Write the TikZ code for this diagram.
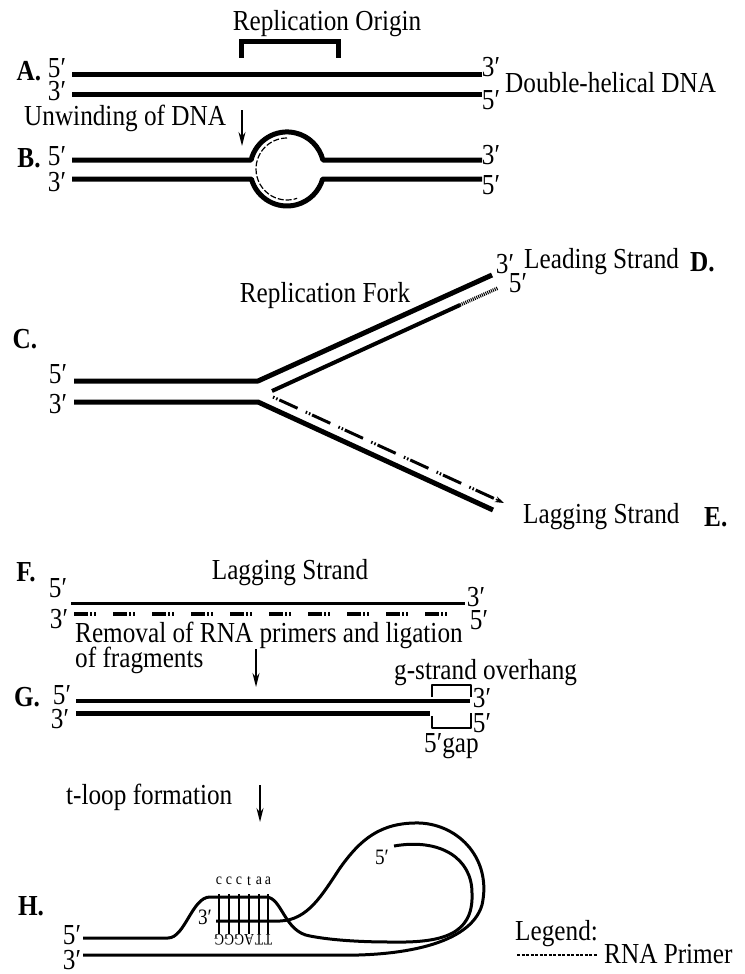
\documentclass[tikz,border=0pt]{standalone}
\usepackage{fontspec}
\setmainfont{Liberation Serif}[FakeStretch=0.87]
\usetikzlibrary{arrows.meta,calc}
\begin{document}
\begin{tikzpicture}[x=1pt,y=-1pt,
  lbl/.style={font=\fontsize{29}{30}\selectfont, inner sep=0pt},
  let/.style={font=\bfseries\fontsize{29}{30}\selectfont, inner sep=0pt},
  sml/.style={font=\fontsize{22}{23}\selectfont, inner sep=0pt},
  base/.style={font=\fontsize{16}{17}\selectfont, inner sep=0pt},
  fat/.style={line width=5pt},
  mid/.style={line width=3.5pt},
  slim/.style={line width=3pt},
  brk/.style={line width=1.2pt},
  down/.style={line width=1.6pt,-{Stealth[length=14pt,width=7pt]}},
  primer/.style={line width=3.5pt, dash pattern=on 14pt off 2pt on 2pt off 2pt on 2pt off 17pt},
  lagdash/.style={line width=3pt, dash pattern=on 1.5pt off 2pt on 1.5pt off 2pt on 20pt off 9pt},
  hatch/.style={line width=3.5pt, dash pattern=on 1pt off 1pt},
  line join=round]
\useasboundingbox (0,0) rectangle (744,974);

% ---------- A ----------
\node[lbl] (ro) at (327,24) {Replication Origin};
\draw[fat, line join=miter] (241,58) -- (241,42) -- (338,42) -- (338,58);
\node[let] (A) at (29,71) {A.};
\coordinate (a1) at (72,74); \coordinate (a2) at (482,74);
\coordinate (a3) at (72,94); \coordinate (a4) at (482,94);
\draw[fat] (a1) -- (a2);
\draw[fat] (a3) -- (a4);
\node[lbl] (a5l) at (57,68) {5′};
\node[lbl] (a3l) at (57,91) {3′};
\node[lbl] (a3r) at (491,67) {3′};
\node[lbl] (a5r) at (491,100) {5′};
\node[lbl, anchor=west] (dh) at (505,83) {Double-helical DNA};

\node[lbl, anchor=west] (unw) at (24,118) {Unwinding of DNA};
\coordinate (u1) at (242,110); \coordinate (u2) at (242,146);
\draw[down] (u1) -- (u2);

% ---------- B ----------
\node[let] (B) at (29,158) {B.};
\draw[fat] (72,160) -- (251.1,160) arc[start angle=194, end angle=346, radius=37] -- (482,160);
\draw[fat] (72,179) -- (251.4,179) arc[start angle=164.3, end angle=15.7, radius=37] -- (482,179);
\draw[line width=1.2pt, dash pattern=on 6pt off 2pt] (287,138) arc[start angle=270, end angle=71, radius=31];
\node[lbl] (b5l) at (57,156) {5′};
\node[lbl] (b3l) at (57,182) {3′};
\node[lbl] (b3r) at (491,155) {3′};
\node[lbl] (b5r) at (491,185) {5′};

% ---------- C ----------
\node[let] (C) at (25,339) {C.};
\node[lbl] (c5l) at (58,374) {5′};
\node[lbl] (c3l) at (58,404) {3′};
\coordinate (c1) at (74,381); \coordinate (cj1) at (258,381); \coordinate (ce1) at (492,275);
\coordinate (c2) at (74,402); \coordinate (cj2) at (258,402); \coordinate (ce2) at (493,510);
\draw[fat] (c1) -- (cj1) -- (ce1);
\draw[fat] (c2) -- (cj2) -- (ce2);
\coordinate (ls1) at (272,391); \coordinate (ls2) at (460,305); \coordinate (ls3) at (498,288);
\draw[line width=4pt] (ls1) -- (ls2);
\draw[hatch] (ls2) -- (ls3);
\coordinate (lg1) at (273,397); \coordinate (lg2) at (504,503);
\coordinate (lg3) at ($(lg2)!9pt!(lg1)$);
\draw[lagdash] (lg1) -- (lg3);
\draw[line width=1.5pt, -{Stealth[length=9pt,width=6pt]}] (lg3) -- (lg2);
\node[lbl] (rf) at (325,296) {Replication Fork};
\node[lbl] (d3) at (505,264) {3′};
\node[lbl] (d5) at (518,283) {5′};
\node[lbl, anchor=west] (lead) at (524,262) {Leading Strand};
\node[let, anchor=west] (D) at (690,262) {D.};
\node[lbl, anchor=west] (lag) at (523,517) {Lagging Strand};
\node[let, anchor=west] (E) at (704,517) {E.};

% ---------- F ----------
\node[let] (F) at (26,572) {F.};
\node[lbl] (flag) at (290,573) {Lagging Strand};
\node[lbl] (f5l) at (58,588) {5′};
\coordinate (f1) at (71,603); \coordinate (f2) at (465,603);
\draw[slim] (f1) -- (f2);
\node[lbl] (f3r) at (476,597) {3′};
\coordinate (f3) at (74,614); \coordinate (f4) at (458,614);
\draw[primer] (f3) -- (f4);
\node[lbl] (f3l) at (59,619) {3′};
\node[lbl] (f5r) at (479,620) {5′};
\node[lbl, anchor=west] (rem1) at (75,635) {Removal of RNA primers and ligation};
\node[lbl, anchor=west] (rem2) at (75,660) {of fragments};
\coordinate (fa1) at (256,649); \coordinate (fa2) at (256,687);
\draw[down] (fa1) -- (fa2);

% ---------- G ----------
\node[lbl, anchor=west] (gso) at (394,673) {g-strand overhang};
\node[let] (G) at (27,697) {G.};
\node[lbl] (g5l) at (62,695) {5′};
\coordinate (g1) at (76,701); \coordinate (g2) at (470,701);
\coordinate (g3) at (76,713); \coordinate (g4) at (430,713);
\draw[mid] (g1) -- (g2);
\draw[fat] (g3) -- (g4);
\node[lbl] (g3l) at (60,719) {3′};
\draw[brk] (432,697) -- (432,685) -- (471,685) -- (471,697);
\draw[brk] (432,716) -- (432,728) -- (471,728) -- (471,713);
\node[lbl] (g3r) at (482,698) {3′};
\node[lbl] (g5r) at (482,723) {5′};
\node[lbl, anchor=west] (gap) at (424,746) {5′gap};

% ---------- H ----------
\node[lbl, anchor=west] (tl) at (66,797) {t-loop formation};
\coordinate (ta1) at (260,785); \coordinate (ta2) at (260,822);
\draw[down] (ta1) -- (ta2);
\node[let] (H) at (31,906) {H.};
\node[lbl] (h5l) at (72,935) {5′};
\node[lbl] (h3l) at (72,960) {3′};
\draw[slim] (83,938) -- (168,938) .. controls (185,938) and (192,897) .. (210,897) -- (266,897)
  .. controls (282,897) and (284,932) .. (310,936) .. controls (330,940) and (360,942) .. (390,942)
  .. controls (440,943) and (474,936) .. (472,893) .. controls (472,858) and (440,838) .. (394,846);
\draw[slim] (83,955) -- (330,955) .. controls (400,957) and (470,945) .. (482,905)
  .. controls (492,860) and (460,825) .. (420,823) .. controls (380,822) and (360,840) .. (340,868)
  .. controls (322,895) and (308,920) .. (280,921) -- (216,921);
\foreach \x/\t/\b in {219/c/G,229/c/G,239/c/G,249/t/A,259/a/T,268/a/T} {
  \draw[line width=1.5pt] (\x,894) -- (\x,934);
  \node[base] (up\x) at (\x,881) {\t};
  \node[base, rotate=180] (lo\x) at (\x,940) {\b};
}
\node[sml] (h3i) at (205,917) {3′};
\node[sml] (h5i) at (382,857) {5′};

% ---------- Legend ----------
\node[lbl, anchor=west] (leg) at (515,934) {Legend:};
\coordinate (l1) at (517,955); \coordinate (l2) at (598,955);
\draw[line width=1.5pt, dash pattern=on 3pt off 1.5pt] (l1) -- (l2);
\node[lbl, anchor=west] (rna) at (604,954) {RNA Primer};
\end{tikzpicture}
\end{document}
